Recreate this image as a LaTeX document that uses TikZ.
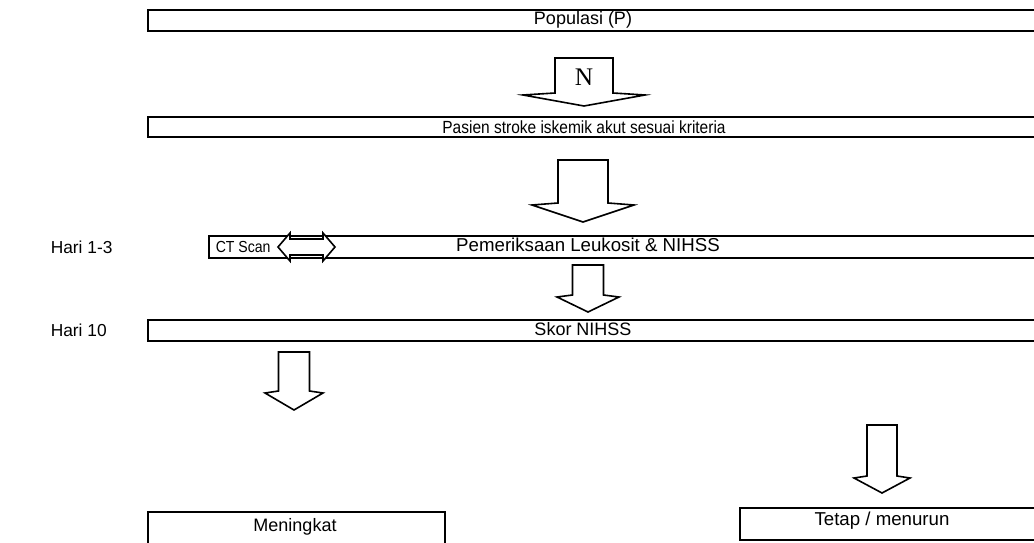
\documentclass[tikz,border=0pt]{standalone}
\usepackage{fontspec}
\setmainfont{Liberation Sans}
\newfontfamily\narrowfont{Liberation Sans}[FakeStretch=0.88]
\newfontfamily\serifN{Liberation Serif}
\begin{document}
\begin{tikzpicture}[x=0.75pt,y=-0.75pt,
  line width=1.2pt,
  lbl/.style={inner sep=0pt,font=\fontsize{13}{15}\selectfont},
  boxshape/.style={draw,line width=1.2pt},
]
\useasboundingbox (0,0) rectangle (1034,542);
\clip (0,0) rectangle (1034,542);
\newcommand\blockdown[6]{%
  \draw[line join=miter] (#1-#2,#3) -- (#1+#2,#3) -- (#1+#2,#4) -- (#1+#5,#4+2)
    -- (#1,#6) -- (#1-#5,#4+2) -- (#1-#2,#4) -- cycle;}
% boxes
\draw[boxshape] (148,10) rectangle (1040,31);
\node[lbl,font=\fontsize{13.5}{15}\selectfont] (pop) at (583,20) {Populasi (P)};
\draw[boxshape] (148,117) rectangle (1040,137);
\node[lbl,font=\narrowfont\fontsize{13.2}{15}\selectfont] (pas) at (584,127) {Pasien stroke iskemik akut sesuai kriteria};
\draw[boxshape] (209,236) rectangle (1040,258);
\node[lbl,anchor=west,font=\narrowfont\fontsize{12}{15}\selectfont] (ct) at (215,247) {CT Scan};
\node[lbl,font=\fontsize{14}{16}\selectfont] (pem) at (588,245) {Pemeriksaan Leukosit \& NIHSS};
\draw[boxshape] (148,320) rectangle (1040,341);
\node[lbl,font=\fontsize{13.5}{15}\selectfont] (skor) at (583,329) {Skor NIHSS};
\draw[boxshape] (148,512) rectangle (445,560);
\node[lbl,font=\fontsize{13.5}{15}\selectfont] (men) at (295,527) {Meningkat};
\draw[boxshape] (740,508) rectangle (1040,540);
\node[lbl,font=\fontsize{14}{16}\selectfont] (tet) at (882,521) {Tetap / menurun};
% side labels
\node[lbl,anchor=west] (h13) at (50,247) {Hari 1-3};
\node[lbl,anchor=west] (h10) at (50,330) {Hari 10};
% block arrows
\blockdown{584}{29}{58}{93}{61}{106}
\node[inner sep=0pt,font=\serifN\fontsize{19}{21}\selectfont] (n) at (584,77) {N};
\blockdown{583}{25}{160}{203}{51}{222}
\blockdown{588}{15.5}{265}{295}{31}{312}
\blockdown{294}{15.5}{352}{391}{29}{410}
\blockdown{882}{15}{425}{476}{28}{493}
% double arrow
\draw[fill=white,line join=miter] (278,247) -- (290,233) -- (290,239) -- (323,239) -- (323,233)
  -- (335,247) -- (323,261) -- (323,255) -- (290,255) -- (290,261) -- cycle;
\end{tikzpicture}
\end{document}
